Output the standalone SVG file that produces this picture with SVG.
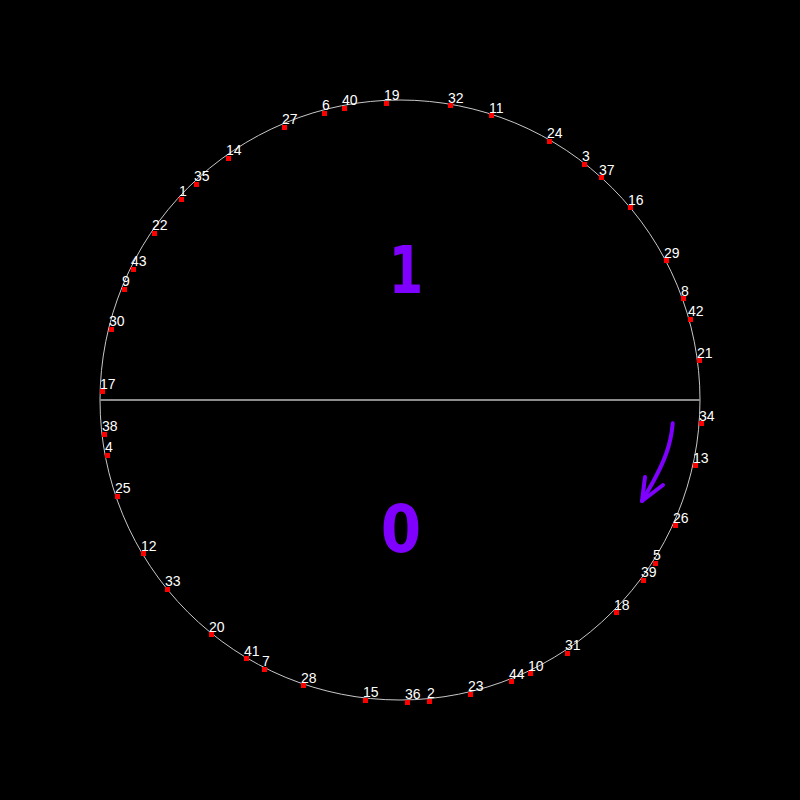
<svg xmlns="http://www.w3.org/2000/svg" width="800" height="800" viewBox="0 0 800 800">
<style>
.dot{fill:#ff0000}
.lbl{font-family:"Liberation Sans",Arial,sans-serif;font-size:14px;fill:#ffffff}
.big{font-family:"DejaVu Sans",sans-serif;font-weight:bold;font-size:66px;fill:#7f00ff;text-anchor:middle}
</style>
<rect x="0" y="0" width="800" height="800" fill="#000000"/>
<g id="connectors">
<circle cx="400" cy="400" r="300" fill="none" stroke="#c8c8c8" stroke-width="1"/>
<line x1="100" y1="400" x2="700" y2="400" stroke="#8c8c8c" stroke-width="2"/>
<path d="M672.7,423.3 C671,445 664,462 653,482 C648,491 645,496 642,501" fill="none" stroke="#7f00ff" stroke-width="4" stroke-linecap="round"/>
<path d="M645,477 L642,501 L663,485" fill="none" stroke="#7f00ff" stroke-width="4" stroke-linecap="round" stroke-linejoin="round"/>
</g>
<g id="region1"><text class="big" x="0" y="293" transform="translate(406,0) scale(0.75,1)">1</text></g>
<g id="region0"><text class="big" x="0" y="552" transform="translate(401,0) scale(0.88,1)">0</text></g>
<g id="n19"><rect class="dot" x="384" y="101" width="5" height="5"/><text class="lbl" x="384" y="100">19</text></g>
<g id="n40"><rect class="dot" x="342" y="106" width="5" height="5"/><text class="lbl" x="342" y="105">40</text></g>
<g id="n6"><rect class="dot" x="322" y="111" width="5" height="5"/><text class="lbl" x="322" y="110">6</text></g>
<g id="n27"><rect class="dot" x="282" y="125" width="5" height="5"/><text class="lbl" x="282" y="124">27</text></g>
<g id="n14"><rect class="dot" x="226" y="156" width="5" height="5"/><text class="lbl" x="226" y="155">14</text></g>
<g id="n35"><rect class="dot" x="194" y="182" width="5" height="5"/><text class="lbl" x="194" y="181">35</text></g>
<g id="n1"><rect class="dot" x="179" y="197" width="5" height="5"/><text class="lbl" x="179" y="196">1</text></g>
<g id="n22"><rect class="dot" x="152" y="231" width="5" height="5"/><text class="lbl" x="152" y="230">22</text></g>
<g id="n43"><rect class="dot" x="131" y="267" width="5" height="5"/><text class="lbl" x="131" y="266">43</text></g>
<g id="n9"><rect class="dot" x="122" y="287" width="5" height="5"/><text class="lbl" x="122" y="286">9</text></g>
<g id="n30"><rect class="dot" x="109" y="327" width="5" height="5"/><text class="lbl" x="109" y="326">30</text></g>
<g id="n17"><rect class="dot" x="100" y="389" width="5" height="5"/><text class="lbl" x="100" y="389">17</text></g>
<g id="n38"><rect class="dot" x="102" y="432" width="5" height="5"/><text class="lbl" x="102" y="431">38</text></g>
<g id="n4"><rect class="dot" x="105" y="453" width="5" height="5"/><text class="lbl" x="105" y="452">4</text></g>
<g id="n25"><rect class="dot" x="115" y="494" width="5" height="5"/><text class="lbl" x="115" y="493">25</text></g>
<g id="n12"><rect class="dot" x="141" y="551" width="5" height="5"/><text class="lbl" x="141" y="551">12</text></g>
<g id="n33"><rect class="dot" x="165" y="587" width="5" height="5"/><text class="lbl" x="165" y="586">33</text></g>
<g id="n20"><rect class="dot" x="209" y="632" width="5" height="5"/><text class="lbl" x="209" y="632">20</text></g>
<g id="n41"><rect class="dot" x="244" y="656" width="5" height="5"/><text class="lbl" x="244" y="656">41</text></g>
<g id="n7"><rect class="dot" x="262" y="667" width="5" height="5"/><text class="lbl" x="262" y="666">7</text></g>
<g id="n28"><rect class="dot" x="301" y="683" width="5" height="5"/><text class="lbl" x="301" y="683">28</text></g>
<g id="n15"><rect class="dot" x="363" y="698" width="5" height="5"/><text class="lbl" x="363" y="697">15</text></g>
<g id="n36"><rect class="dot" x="405" y="700" width="5" height="5"/><text class="lbl" x="405" y="699">36</text></g>
<g id="n2"><rect class="dot" x="427" y="699" width="5" height="5"/><text class="lbl" x="427" y="698">2</text></g>
<g id="n23"><rect class="dot" x="468" y="692" width="5" height="5"/><text class="lbl" x="468" y="691">23</text></g>
<g id="n44"><rect class="dot" x="509" y="679" width="5" height="5"/><text class="lbl" x="509" y="679">44</text></g>
<g id="n10"><rect class="dot" x="528" y="671" width="5" height="5"/><text class="lbl" x="528" y="671">10</text></g>
<g id="n31"><rect class="dot" x="565" y="651" width="5" height="5"/><text class="lbl" x="565" y="650">31</text></g>
<g id="n18"><rect class="dot" x="614" y="610" width="5" height="5"/><text class="lbl" x="614" y="610">18</text></g>
<g id="n39"><rect class="dot" x="641" y="578" width="5" height="5"/><text class="lbl" x="641" y="577">39</text></g>
<g id="n5"><rect class="dot" x="653" y="561" width="5" height="5"/><text class="lbl" x="653" y="560">5</text></g>
<g id="n26"><rect class="dot" x="673" y="523" width="5" height="5"/><text class="lbl" x="673" y="523">26</text></g>
<g id="n13"><rect class="dot" x="693" y="463" width="5" height="5"/><text class="lbl" x="693" y="463">13</text></g>
<g id="n34"><rect class="dot" x="699" y="421" width="5" height="5"/><text class="lbl" x="699" y="421">34</text></g>
<g id="n21"><rect class="dot" x="697" y="358" width="5" height="5"/><text class="lbl" x="697" y="358">21</text></g>
<g id="n42"><rect class="dot" x="688" y="317" width="5" height="5"/><text class="lbl" x="688" y="316">42</text></g>
<g id="n8"><rect class="dot" x="681" y="296" width="5" height="5"/><text class="lbl" x="681" y="296">8</text></g>
<g id="n29"><rect class="dot" x="664" y="258" width="5" height="5"/><text class="lbl" x="664" y="258">29</text></g>
<g id="n16"><rect class="dot" x="628" y="205" width="5" height="5"/><text class="lbl" x="628" y="205">16</text></g>
<g id="n37"><rect class="dot" x="599" y="175" width="5" height="5"/><text class="lbl" x="599" y="175">37</text></g>
<g id="n3"><rect class="dot" x="582" y="162" width="5" height="5"/><text class="lbl" x="582" y="161">3</text></g>
<g id="n24"><rect class="dot" x="547" y="139" width="5" height="5"/><text class="lbl" x="547" y="138">24</text></g>
<g id="n11"><rect class="dot" x="489" y="113" width="5" height="5"/><text class="lbl" x="489" y="113">11</text></g>
<g id="n32"><rect class="dot" x="448" y="103" width="5" height="5"/><text class="lbl" x="448" y="103">32</text></g>
</svg>
